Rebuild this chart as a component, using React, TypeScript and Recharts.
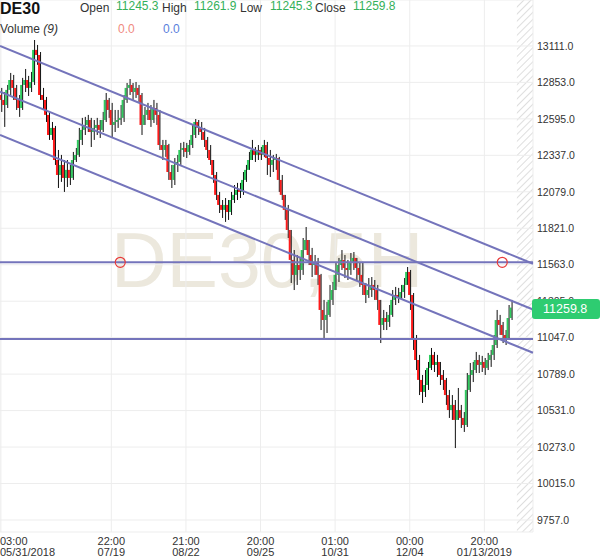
import React from 'react';
import {
  ComposedChart, Bar, XAxis, YAxis, CartesianGrid, ReferenceLine, ReferenceDot,
} from 'recharts';

// DE30 candles, oldest first (one candle per slot)
const openVals = [
  12764, 12729, 12693, 12800, 12870, 12814, 12729, 12672, 12835, 12870,
  12814, 12856, 13083, 13047, 12764, 12729, 12623, 12481, 12531, 12304,
  12198, 12269, 12177, 12234, 12177, 12304, 12340, 12446, 12517, 12552,
  12587, 12502, 12531, 12552, 12517, 12587, 12729, 12658, 12552, 12573,
  12587, 12602, 12729, 12814, 12835, 12785, 12814, 12764, 12552, 12623,
  12658, 12587, 12672, 12623, 12410, 12375, 12410, 12219, 12163, 12269,
  12290, 12375, 12389, 12361, 12410, 12481, 12573, 12531, 12502, 12446,
  12375, 12304, 12198, 12057, 11986, 11951, 11986, 11936, 12021, 12057,
  12092, 12078, 12163, 12234, 12304, 12375, 12340, 12375, 12340, 12410,
  12318, 12269, 12304, 12318, 12163, 12057, 11951, 11809, 11597, 11491,
  11561, 11526, 11667, 11738, 11632, 11561, 11583, 11491, 11243, 11172,
  11208, 11314, 11384, 11491, 11561, 11597, 11540, 11526, 11583, 11611,
  11540, 11491, 11420, 11349, 11384, 11420, 11384, 11314, 11137, 11186,
  11158, 11208, 11314, 11349, 11328, 11370, 11420, 11512, 11349, 11031,
  10889, 10748, 10663, 10712, 10833, 10925, 10854, 10875, 10783, 10748,
  10641, 10535, 10571, 10465, 10535, 10479, 10429, 10677, 10783, 10818,
  10889, 10854, 10875, 10833, 10889, 10925, 10995, 11172, 11137, 11066,
  11045, 11186,
];
const highVals = [
  12814, 12785, 12835, 12920, 12906, 12835, 12764, 12885, 12948, 12899,
  12927, 13153, 13118, 13068, 12814, 12750, 12644, 12573, 12545, 12375,
  12340, 12304, 12304, 12269, 12361, 12389, 12531, 12602, 12609, 12623,
  12602, 12587, 12602, 12587, 12644, 12778, 12743, 12708, 12658, 12658,
  12693, 12764, 12849, 12877, 12849, 12856, 12835, 12778, 12679, 12708,
  12693, 12729, 12708, 12658, 12446, 12446, 12418, 12269, 12318, 12340,
  12425, 12432, 12425, 12446, 12552, 12594, 12587, 12573, 12531, 12467,
  12410, 12304, 12219, 12078, 12021, 12035, 12021, 12078, 12127, 12142,
  12142, 12219, 12269, 12361, 12446, 12396, 12410, 12396, 12446, 12432,
  12375, 12340, 12347, 12326, 12198, 12057, 11986, 11809, 11667, 11632,
  11618, 11752, 11830, 11738, 11682, 11632, 11611, 11498, 11314, 11300,
  11420, 11441, 11583, 11611, 11667, 11632, 11597, 11646, 11653, 11611,
  11583, 11583, 11434, 11469, 11476, 11455, 11420, 11314, 11243, 11229,
  11278, 11384, 11406, 11399, 11420, 11469, 11547, 11526, 11363, 11066,
  10925, 10783, 10818, 10875, 10974, 10946, 10925, 10875, 10818, 10762,
  10677, 10641, 10606, 10691, 10571, 10521, 10797, 10868, 10875, 10946,
  10925, 10918, 10903, 10939, 10960, 11066, 11243, 11208, 11158, 11101,
  11278, 11314,
];
const lowVals = [
  12644, 12538, 12672, 12764, 12729, 12658, 12609, 12658, 12785, 12757,
  12785, 12835, 12977, 12729, 12658, 12573, 12446, 12446, 12269, 12106,
  12149, 12078, 12113, 12127, 12163, 12290, 12326, 12410, 12481, 12502,
  12396, 12446, 12481, 12460, 12502, 12573, 12602, 12460, 12502, 12531,
  12552, 12573, 12708, 12764, 12729, 12743, 12715, 12481, 12552, 12587,
  12538, 12566, 12552, 12375, 12304, 12326, 12163, 12106, 12127, 12219,
  12269, 12326, 12318, 12340, 12389, 12460, 12481, 12446, 12396, 12318,
  12269, 12142, 12021, 11929, 11894, 11866, 11880, 11915, 12000, 12021,
  12035, 12057, 12149, 12234, 12304, 12290, 12304, 12304, 12326, 12198,
  12184, 12219, 12234, 12078, 12021, 11880, 11752, 11434, 11384, 11420,
  11455, 11491, 11667, 11561, 11476, 11491, 11420, 11101, 11045, 11080,
  11194, 11278, 11384, 11441, 11526, 11469, 11455, 11491, 11526, 11455,
  11406, 11349, 11292, 11328, 11335, 11314, 11243, 11009, 11101, 11101,
  11123, 11194, 11278, 11292, 11314, 11328, 11420, 11243, 10960, 10818,
  10641, 10585, 10627, 10677, 10818, 10804, 10769, 10712, 10677, 10571,
  10479, 10465, 10266, 10465, 10408, 10380, 10415, 10663, 10733, 10797,
  10797, 10804, 10783, 10818, 10840, 10889, 10974, 11066, 11009, 10995,
  11031, 11172,
];
const closeVals = [
  12729, 12693, 12800, 12870, 12814, 12729, 12672, 12835, 12870, 12814,
  12856, 13083, 13047, 12764, 12729, 12623, 12481, 12531, 12304, 12198,
  12269, 12177, 12234, 12177, 12304, 12340, 12446, 12517, 12552, 12587,
  12502, 12531, 12552, 12517, 12587, 12729, 12658, 12552, 12573, 12587,
  12602, 12729, 12814, 12835, 12785, 12814, 12764, 12552, 12623, 12658,
  12587, 12672, 12623, 12410, 12375, 12410, 12219, 12163, 12269, 12290,
  12375, 12389, 12361, 12410, 12481, 12573, 12531, 12502, 12446, 12375,
  12304, 12198, 12057, 11986, 11951, 11986, 11936, 12021, 12057, 12092,
  12078, 12163, 12234, 12304, 12375, 12340, 12375, 12340, 12410, 12318,
  12269, 12304, 12318, 12163, 12057, 11951, 11809, 11597, 11491, 11561,
  11526, 11667, 11738, 11632, 11561, 11583, 11491, 11243, 11172, 11208,
  11314, 11384, 11491, 11561, 11597, 11540, 11526, 11583, 11611, 11540,
  11491, 11420, 11349, 11384, 11420, 11384, 11314, 11137, 11186, 11158,
  11208, 11314, 11349, 11328, 11370, 11420, 11512, 11349, 11031, 10889,
  10748, 10663, 10712, 10833, 10925, 10854, 10875, 10783, 10748, 10641,
  10535, 10571, 10465, 10535, 10479, 10429, 10677, 10783, 10818, 10889,
  10854, 10875, 10833, 10889, 10925, 10995, 11172, 11137, 11066, 11045,
  11186, 11259.8,
];

// x axis labels, placed on candle slots
const tickSlots = [0, 37, 62, 87, 112, 137, 162];
const tickTimes = ['03:00', '22:00', '21:00', '20:00', '01:00', '00:00', '20:00'];
const tickDates = ['05/31/2018', '07/19', '08/22', '09/25', '10/31', '12/04', '01/13/2019'];

const priceTicks = [9757, 10015, 10273, 10531, 10789, 11047, 11305, 11563, 11821, 12079, 12337, 12595, 12853, 13111];
const priceDomain = [9672, 13436];

// drawn objects: channel lines (start, end), horizontal levels, level markers
const xStart = -0.3;
const xEnd = 178.3;
const futureStart = 172.9;
const channelTop = [13111, 11570];
const channelMid = [12788, 11246];
const channelLow = [12481, 10940];
const levels = [11580, 11038];
const markerSlots = [40, 168];

const lastClose = 11259.8;

const data = closeVals.map((c, i) => ({
  i,
  open: openVals[i],
  high: highVals[i],
  low: lowVals[i],
  close: c,
  range: [lowVals[i], highVals[i]],
}));

const LINE = '#7474bb';
const PLOT_W = 533;
const PLOT_H = 532;

function Candle(props: any) {
  const { x, y, width, height, payload } = props;
  if (x == null || !payload) return null;
  const top = height < 0 ? y + height : y;
  const h = Math.abs(height);
  const span = payload.high - payload.low || 1;
  const toY = (v: number) => top + ((payload.high - v) / span) * h;
  const yo = toY(payload.open);
  const yc = toY(payload.close);
  const up = payload.close >= payload.open;
  const cx = x + width / 2;
  return (
    <g>
      <rect x={cx - 1.5} y={Math.min(yo, yc)} width={2} height={Math.max(1, Math.abs(yo - yc))} fill={up ? '#2ecc5e' : '#ff1a1a'} />
      <rect x={cx + 0.5} y={top} width={1} height={Math.max(1, h)} fill="#111" />
    </g>
  );
}

function TimeTick(props: any) {
  const { x, y, payload, index } = props;
  const k = tickSlots.indexOf(payload.value);
  const first = index === 0;
  return (
    <g>
      <text x={first ? 0 : x} y={y + 13} textAnchor={first ? 'start' : 'middle'} fontSize={11} fill="#333">{tickTimes[k]}</text>
      <text x={first ? 0 : x} y={y + 24} textAnchor={first ? 'start' : 'middle'} fontSize={11} fill="#333">{tickDates[k]}</text>
    </g>
  );
}

const lbl: React.CSSProperties = { position: 'absolute', top: 1, fontSize: 12, color: '#333', whiteSpace: 'nowrap' };
const val: React.CSSProperties = { position: 'absolute', top: -1, fontSize: 12, color: '#34b05a', whiteSpace: 'nowrap' };

export default function App() {
  const tagY = ((priceDomain[1] - lastClose) / (priceDomain[1] - priceDomain[0])) * PLOT_H;
  const hatchX = ((futureStart - xStart) / (xEnd - xStart)) * PLOT_W;
  return (
    <div style={{ position: 'relative', width: 600, height: 558, fontFamily: 'Arial, "Liberation Sans", sans-serif', background: '#fff' }}>
      <style>{'body{margin:0}'}</style>
      <svg width={600} height={558} style={{ position: 'absolute', left: 0, top: 0 }}>
        <defs>
          <pattern id="hatch" width={5} height={5} patternUnits="userSpaceOnUse" patternTransform="rotate(45)">
            <rect x={0} y={0} width={1} height={5} fill="#dedede" />
          </pattern>
        </defs>
        <rect x={hatchX} y={0} width={PLOT_W - hatchX} height={PLOT_H} fill="url(#hatch)" />
        <text x={111} y={287} fontSize={77} fill="#ece8dd" fontFamily="Arial, 'Liberation Sans', sans-serif">DE30,5H</text>
      </svg>
      <div style={{ position: 'absolute', left: 0, top: 0 }}>
        <ComposedChart width={600} height={558} data={data} margin={{ top: 0, right: 0, left: 0, bottom: 0 }}>
          <CartesianGrid stroke="#ededed" />
          <XAxis
            type="number"
            dataKey="i"
            domain={[xStart, xEnd]}
            allowDataOverflow
            ticks={tickSlots}
            interval={0}
            tick={<TimeTick />}
            axisLine={false}
            tickLine={false}
            tickSize={0}
            tickMargin={0}
            height={26}
          />
          <YAxis
            orientation="right"
            domain={priceDomain}
            allowDataOverflow
            ticks={priceTicks}
            interval={0}
            tickFormatter={(v: number) => v.toFixed(1)}
            tick={{ fontSize: 10.5, fill: '#333', textAnchor: 'start' }}
            axisLine={false}
            tickLine={false}
            tickSize={0}
            tickMargin={4}
            width={67}
          />
          <Bar dataKey="range" barSize={3} shape={<Candle />} isAnimationActive={false} />
          <ReferenceLine segment={[{ x: xStart, y: channelTop[0] }, { x: xEnd, y: channelTop[1] }]} stroke={LINE} strokeWidth={2} />
          <ReferenceLine segment={[{ x: xStart, y: channelMid[0] }, { x: xEnd, y: channelMid[1] }]} stroke={LINE} strokeWidth={2} />
          <ReferenceLine segment={[{ x: xStart, y: channelLow[0] }, { x: xEnd, y: channelLow[1] }]} stroke={LINE} strokeWidth={2} />
          {levels.map((v) => (
            <ReferenceLine key={v} y={v} stroke={LINE} strokeWidth={2} />
          ))}
          {markerSlots.map((s) => (
            <ReferenceDot key={s} x={s} y={levels[0]} r={5} fill="none" stroke="#e83a3a" strokeWidth={1.2} />
          ))}
        </ComposedChart>
      </div>
      <div
        style={{
          position: 'absolute', left: 532, top: tagY - 9, width: 68, height: 20, borderRadius: 3,
          background: '#2ecc71', color: '#fff', fontSize: 12.5, lineHeight: '20px', paddingLeft: 11, boxSizing: 'border-box',
        }}
      >
        {lastClose.toFixed(1)}
      </div>
      <div style={{ position: 'absolute', left: 0, top: 0, fontSize: 16, fontWeight: 'bold', color: '#111' }}>DE30</div>
      <span style={{ ...lbl, left: 80 }}>Open</span>
      <span style={{ ...val, left: 116 }}>11245.3</span>
      <span style={{ ...lbl, left: 162 }}>High</span>
      <span style={{ ...val, left: 194 }}>11261.9</span>
      <span style={{ ...lbl, left: 240 }}>Low</span>
      <span style={{ ...val, left: 270 }}>11245.3</span>
      <span style={{ ...lbl, left: 315 }}>Close</span>
      <span style={{ ...val, left: 353 }}>11259.8</span>
      <span style={{ ...lbl, left: 0, top: 22 }}>Volume <i>(9)</i></span>
      <span style={{ ...val, left: 118, top: 22, color: '#f08a80' }}>0.0</span>
      <span style={{ ...val, left: 163, top: 22, color: '#5a80dc' }}>0.0</span>
    </div>
  );
}
